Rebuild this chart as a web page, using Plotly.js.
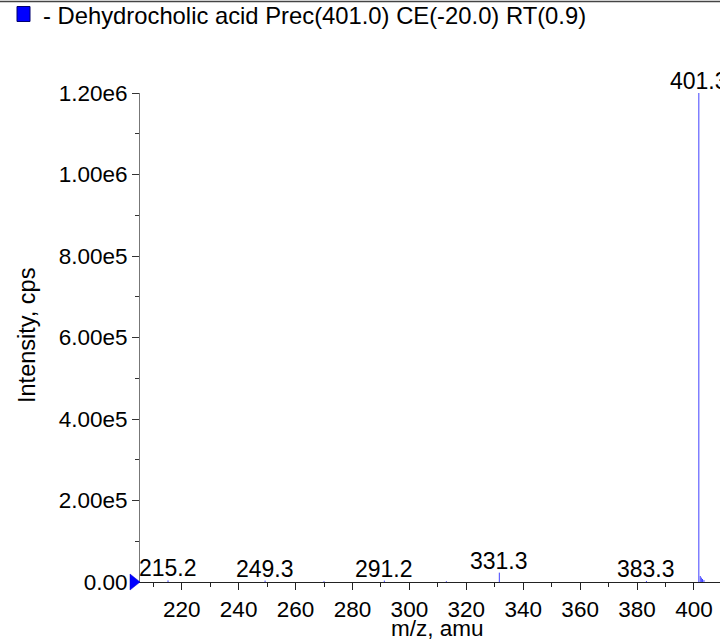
<!DOCTYPE html>
<html>
<head>
<meta charset="utf-8">
<script src="https://cdn.plot.ly/plotly-3.0.1.min.js"></script>
<style>html,body{margin:0;padding:0;background:#fff;}#chart{width:720px;height:639px;}</style>
</head>
<body>
<div id="chart"></div>
<script>
// Peak positions (m/z) and intensities (cps)
const mz = [215.2, 249.3, 270.0, 291.2, 313.0, 331.6, 383.3, 401.7, 402.2, 402.6, 403.0, 403.5];
const intensity = [4000, 3500, 2000, 3500, 2000, 23000, 2500, 1200000, 14700, 10800, 7400, 4900];
// Labelled peaks
const labelMz = [215.2, 249.3, 291.2, 331.6, 383.3, 401.7];
const labelIntensity = [4000, 3500, 3500, 23000, 2500, 1200000];
const labelText = ['215.2', '249.3', '291.2', '331.3', '383.3', '401.3'];
// Axis ticks
const yTickVals = [0, 200000, 400000, 600000, 800000, 1000000, 1200000];
const yTickText = ['0.00', '2.00e5', '4.00e5', '6.00e5', '8.00e5', '1.00e6', '1.20e6'];
const xTickVals = [220, 240, 260, 280, 300, 320, 340, 360, 380, 400];
const legendText = '- Dehydrocholic acid Prec(401.0) CE(-20.0) RT(0.9)';
const xTitle = 'm/z, amu';
const yTitle = 'Intensity, cps';

const W = 720, H = 639, L = 140, R = 0, T = 93, B = 57;
const pw = W - L - R, ph = H - T - B;
const px = v => (v - L) / pw;
const py = v => (H - B - v) / ph;

// stick spectrum built from the arrays
const sx = [], sy = [];
mz.forEach((m, i) => { sx.push(m, m, null); sy.push(0, intensity[i], null); });

const FONT = 'Liberation Sans, Arial, Helvetica, sans-serif';

const annotations = labelMz.map((m, i) => ({
  x: m, y: labelIntensity[i], xref: 'x', yref: 'y', text: labelText[i],
  showarrow: false, xanchor: 'center', yanchor: 'bottom', yshift: -3,
  font: {family: FONT, size: 23, color: '#000'}
}));
annotations.push({
  x: px(41), y: py(15), xref: 'paper', yref: 'paper', text: legendText,
  showarrow: false, xanchor: 'left', yanchor: 'middle',
  font: {family: FONT, size: 23.8, color: '#000'}
});
annotations.push({
  x: px(437), y: py(628), xref: 'paper', yref: 'paper', text: xTitle,
  showarrow: false, xanchor: 'center', yanchor: 'middle',
  font: {family: FONT, size: 22.5, color: '#000'}
});
annotations.push({
  x: px(27), y: py(336), xref: 'paper', yref: 'paper', text: yTitle,
  showarrow: false, xanchor: 'center', yanchor: 'middle', textangle: -90,
  font: {family: FONT, size: 23.5, color: '#000'}
});

const shapes = [
  {type: 'line', xref: 'paper', yref: 'paper', x0: px(0), x1: 1, y0: py(1.5), y1: py(1.5),
   line: {color: '#444', width: 1.5}},
  {type: 'rect', xref: 'paper', yref: 'paper', x0: px(17), x1: px(30), y0: py(21.5), y1: py(6.5),
   fillcolor: '#0000ff', line: {color: '#00006e', width: 1}},
  {type: 'path', xref: 'paper', yref: 'paper',
   path: `M${px(130)},${py(574)} L${px(140)},${py(582)} L${px(130)},${py(590)} Z`,
   fillcolor: '#0000ff', line: {color: '#0000cc', width: 0.5}}
];

const data = [{
  type: 'scatter', mode: 'lines', x: sx, y: sy,
  line: {color: 'rgb(64,64,255)', width: 1}, connectgaps: false, hoverinfo: 'skip'
}];

const layout = {
  width: W, height: H,
  margin: {l: L, r: R, t: T, b: B, pad: 0},
  paper_bgcolor: '#fff', plot_bgcolor: '#fff',
  showlegend: false,
  font: {family: FONT, size: 22, color: '#000'},
  xaxis: {
    range: [205.35, 409.14], showgrid: false, zeroline: false,
    showline: true, linecolor: '#222', linewidth: 1,
    ticks: 'outside', ticklen: 7, tickcolor: '#222', tickwidth: 1,
    tickmode: 'array', tickvals: xTickVals,
    tickfont: {family: FONT, size: 22.5, color: '#000'},
    minor: {dtick: 10, tick0: 200, ticks: 'outside', ticklen: 4, tickcolor: '#222', showgrid: false}
  },
  yaxis: {
    range: [0, 1200000], showgrid: false, zeroline: false,
    showline: true, linecolor: '#777', linewidth: 1,
    ticks: 'outside', ticklen: 7, tickcolor: '#333', tickwidth: 1,
    tickmode: 'array', tickvals: yTickVals, ticktext: yTickText,
    tickfont: {family: FONT, size: 22.5, color: '#000'},
    minor: {dtick: 100000, tick0: 0, ticks: 'outside', ticklen: 4, tickcolor: '#333', showgrid: false}
  },
  annotations: annotations,
  shapes: shapes
};

Plotly.newPlot('chart', data, layout, {displayModeBar: false, staticPlot: true});
</script>
</body>
</html>
